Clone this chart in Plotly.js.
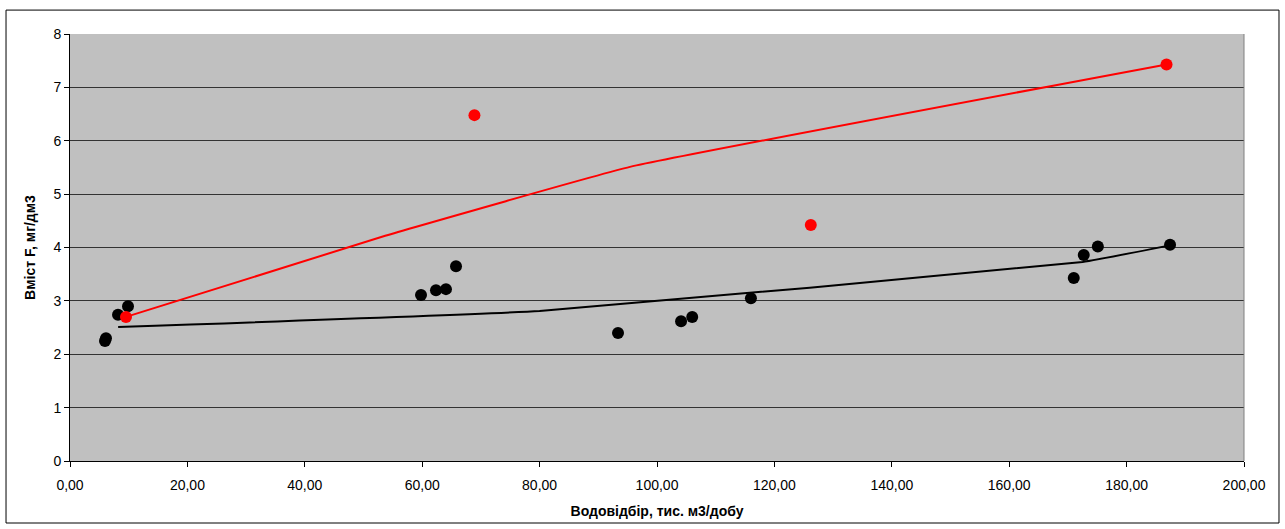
<!DOCTYPE html>
<html>
<head>
<meta charset="utf-8">
<script src="https://cdn.plot.ly/plotly-3.0.1.min.js"></script>
<style>html,body{margin:0;padding:0;background:#fff;}#chart{width:1285px;height:529px;}</style>
</head>
<body>
<div id="chart"></div>
<script>
// Observed points (black)
const blackX = [5.96, 6.13, 8.18, 9.88, 59.8, 62.35, 64.05, 65.76, 93.36, 104.1, 106.0, 116.0, 171.0, 172.7, 175.1, 187.4];
const blackY = [2.25, 2.30, 2.74, 2.90, 3.11, 3.20, 3.22, 3.65, 2.40, 2.62, 2.70, 3.05, 3.43, 3.86, 4.02, 4.05];
// Observed points (red)
const redX = [9.54, 68.9, 126.2, 186.8];
const redY = [2.70, 6.48, 4.42, 7.43];
// Trend lines
const blackLineX = [8.2, 80.0, 172.5, 187.4];
const blackLineY = [2.51, 2.81, 3.73, 4.04];
const redLineX = [9.54, 53.7, 95.4, 186.8];
const redLineY = [2.70, 4.22, 5.51, 7.43];

const xTitle = 'Водовідбір, тис. м3/добу';
const yTitle = 'Вміст F, мг/дм3';

const traces = [
  {x: blackLineX, y: blackLineY, mode: 'lines', line: {color: '#000000', width: 2, shape: 'spline', smoothing: 0.3}, hoverinfo: 'skip'},
  {x: redLineX, y: redLineY, mode: 'lines', line: {color: '#FF0000', width: 2, shape: 'spline', smoothing: 0.3}, hoverinfo: 'skip'},
  {x: blackX, y: blackY, mode: 'markers', marker: {color: '#000000', size: 12}},
  {x: redX, y: redY, mode: 'markers', marker: {color: '#FF0000', size: 12}}
];

const font = {family: 'Liberation Sans, Arial, sans-serif', color: '#000'};

const layout = {
  width: 1285, height: 529,
  margin: {l: 70, r: 41, t: 34, b: 68},
  paper_bgcolor: '#FFFFFF',
  plot_bgcolor: '#C0C0C0',
  showlegend: false,
  separators: ', ',
  font: Object.assign({size: 14}, font),
  xaxis: {
    range: [0, 200], dtick: 20, tick0: 0, tickformat: '.2f',
    showgrid: false, zeroline: false,
    showline: true, linecolor: '#000', linewidth: 1,
    ticks: 'outside', ticklen: 5, tickcolor: '#000',
    ticklabelstandoff: 6,
    tickfont: Object.assign({size: 14}, font),
    title: {text: xTitle, font: Object.assign({size: 14, weight: 'bold'}, font), standoff: 14}
  },
  yaxis: {
    range: [0, 8], dtick: 1, tick0: 0,
    showgrid: true, gridcolor: '#333333', gridwidth: 1,
    zeroline: false,
    showline: true, linecolor: '#000', linewidth: 1,
    ticks: 'outside', ticklen: 5, tickcolor: '#000',
    tickfont: Object.assign({size: 14}, font),
    title: {text: yTitle, font: Object.assign({size: 14, weight: 'bold'}, font), standoff: 14}
  },
  shapes: [
    {type: 'rect', xref: 'paper', yref: 'paper', x0: -0.0545, x1: 1.0298, y0: -0.1452, y1: 1.056,
     line: {color: '#000', width: 1}, fillcolor: 'rgba(0,0,0,0)', layer: 'below'},
    {type: 'line', xref: 'paper', yref: 'paper', x0: 1, x1: 1, y0: 0, y1: 1, line: {color: '#808080', width: 1}}
  ]
};

Plotly.newPlot('chart', traces, layout, {displayModeBar: false, staticPlot: true});
</script>
</body>
</html>
